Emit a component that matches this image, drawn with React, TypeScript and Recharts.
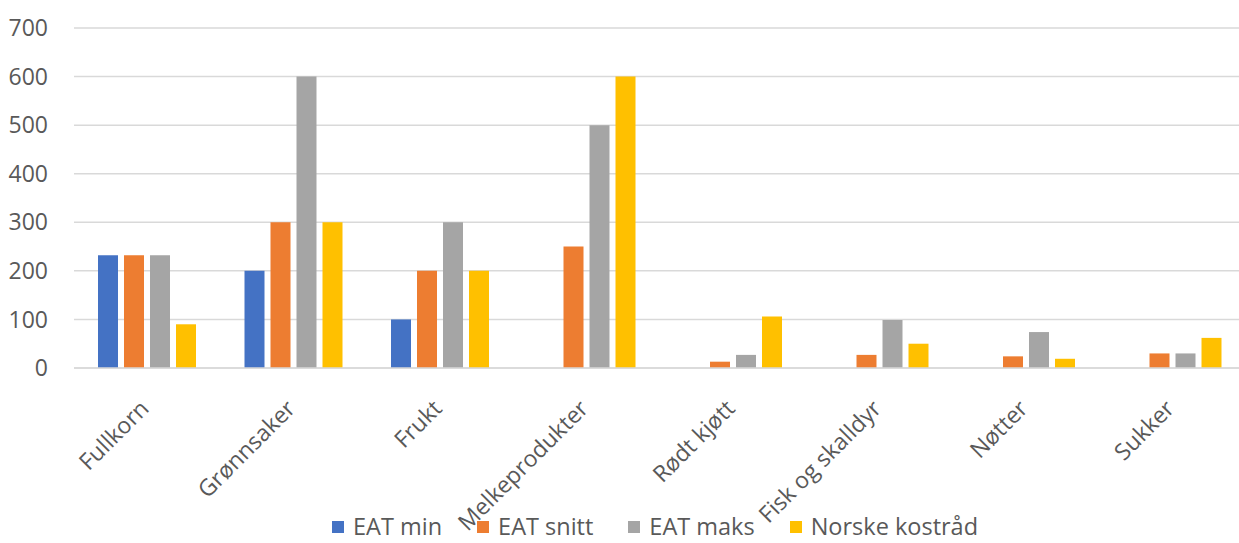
import { BarChart, Bar, XAxis, YAxis, CartesianGrid, Legend } from "recharts"

const categories = ["Fullkorn", "Grønnsaker", "Frukt", "Melkeprodukter", "Rødt kjøtt", "Fisk og skalldyr", "Nøtter", "Sukker"]
const eatMin = [232, 200, 100, null, null, null, null, null]
const eatSnitt = [232, 300, 200, 250, 13, 27, 24, 30]
const eatMaks = [232, 600, 300, 500, 27, 99, 74, 30]
const norskeKostrad = [90, 300, 200, 600, 106, 50, 19, 62]
const yTicks = [0, 100, 200, 300, 400, 500, 600, 700]

const seriesList = [
  { key: "eatMin", name: "EAT min", color: "#4472C4" },
  { key: "eatSnitt", name: "EAT snitt", color: "#ED7D31" },
  { key: "eatMaks", name: "EAT maks", color: "#A5A5A5" },
  { key: "norske", name: "Norske kostråd", color: "#FFC000" },
]

const data = categories.map((name, i) => ({
  name,
  eatMin: eatMin[i],
  eatSnitt: eatSnitt[i],
  eatMaks: eatMaks[i],
  norske: norskeKostrad[i],
}))

const font = "Open Sans"
const textColor = "#595959"

function CategoryTick({ x, y, payload }: any) {
  const ax = x + 3
  const ay = y + 42
  return (
    <text
      x={ax}
      y={ay}
      transform={`rotate(-45, ${ax}, ${ay})`}
      textAnchor="end"
      fill={textColor}
      fontSize={23}
      fontFamily={font}
    >
      {payload.value}
    </text>
  )
}

function LegendBox() {
  return (
    <div style={{ display: "flex", alignItems: "center", height: 30, paddingLeft: 332, paddingBottom: 3, boxSizing: "border-box", fontFamily: font, fontSize: 23.5, color: textColor, lineHeight: "27px", whiteSpace: "nowrap" }}>
      {seriesList.map((s) => (
        <div key={s.key} style={{ display: "flex", alignItems: "center", marginRight: 35 }}>
          <span style={{ width: 12, height: 12, background: s.color, marginRight: 9, display: "inline-block" }} />
          <span>{s.name}</span>
        </div>
      ))}
    </div>
  )
}

export default function App() {
  return (
    <div style={{ position: "absolute", top: 0, left: 0, width: 1239, height: 543, overflow: "hidden", background: "#fff" }}>
      <BarChart
        width={1246}
        height={543}
        data={data}
        margin={{ top: 28, right: 0, bottom: 0, left: 0 }}
        barSize={20}
        barGap={6}
      >
        <CartesianGrid vertical={false} stroke="#d9d9d9" strokeWidth={1.5} />
        <XAxis
          dataKey="name"
          height={145}
          interval={0}
          axisLine={{ stroke: "#d9d9d9", strokeWidth: 1.5 }}
          tickLine={false}
          tickSize={0}
          tickMargin={0}
          tick={<CategoryTick />}
        />
        <YAxis
          width={74}
          domain={[0, 700]}
          ticks={yTicks}
          axisLine={false}
          tickLine={false}
          tickSize={0}
          tickMargin={26}
          tick={{ fill: textColor, fontSize: 23, fontFamily: font }}
        />
        <Legend verticalAlign="bottom" height={30} content={<LegendBox />} />
        {seriesList.map((s) => (
          <Bar key={s.key} dataKey={s.key} name={s.name} fill={s.color} isAnimationActive={false} />
        ))}
      </BarChart>
    </div>
  )
}
